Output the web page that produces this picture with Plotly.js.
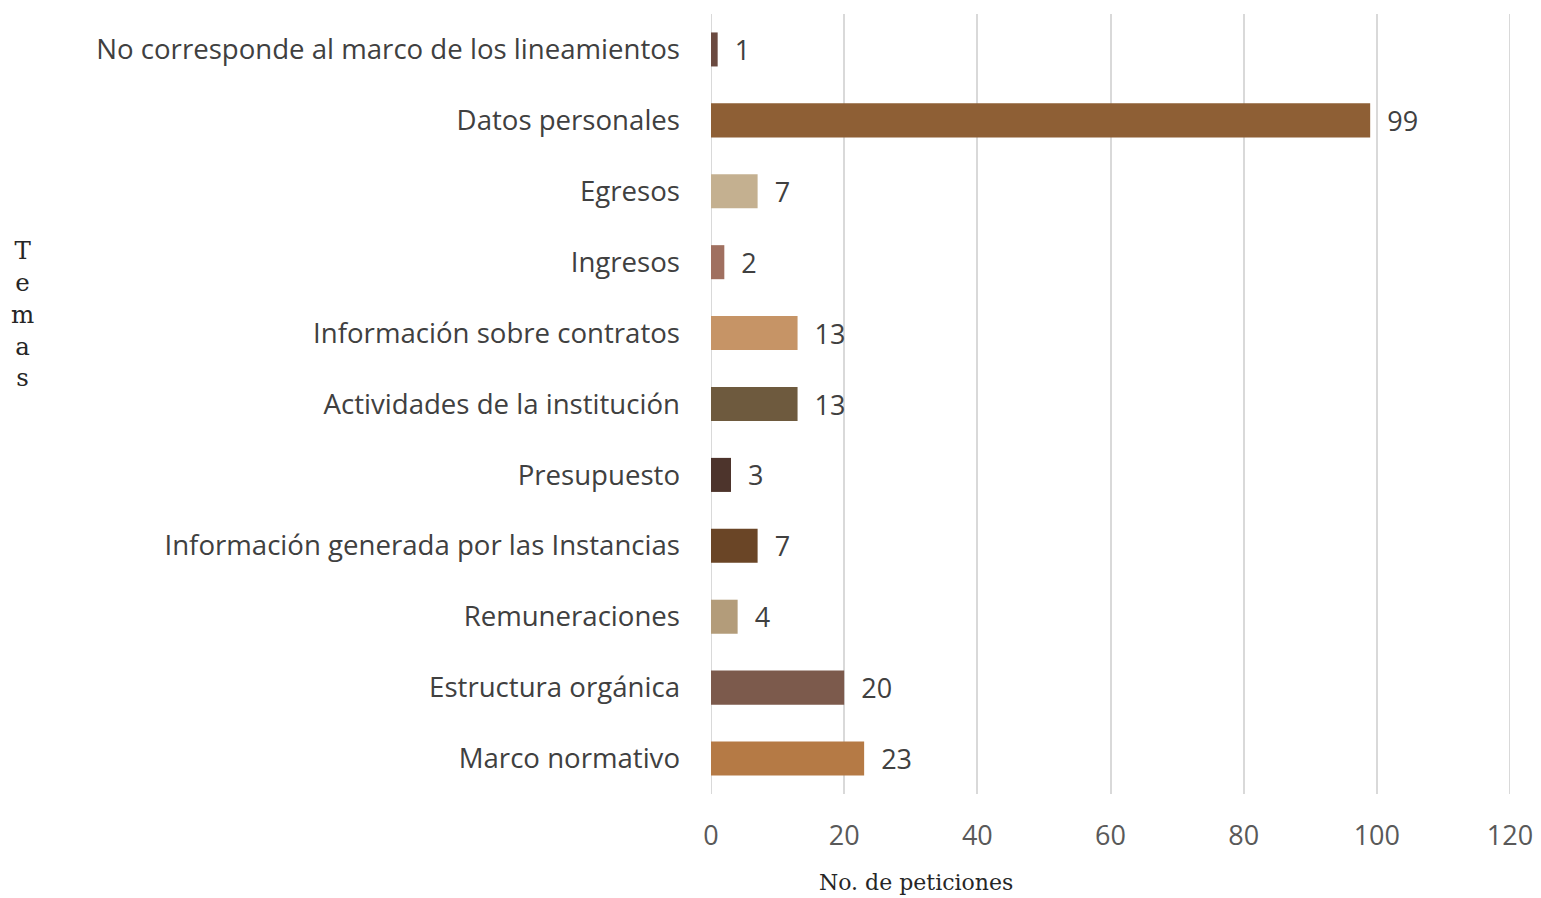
<!DOCTYPE html>
<html>
<head>
<meta charset="utf-8">
<script src="https://cdn.plot.ly/plotly-3.0.1.min.js"></script>
<style>html,body{margin:0;padding:0;background:#fff;}#chart{width:1541px;height:898px;}</style>
</head>
<body>
<div id="chart"></div>
<script>
const categories = [
  "No corresponde al marco de los lineamientos",
  "Datos personales",
  "Egresos",
  "Ingresos",
  "Información sobre contratos",
  "Actividades de la institución",
  "Presupuesto",
  "Información generada por las Instancias",
  "Remuneraciones",
  "Estructura orgánica",
  "Marco normativo"
];
const peticiones = [1, 99, 7, 2, 13, 13, 3, 7, 4, 20, 23];
const barColors = ["#6b4a40", "#8e5f35", "#c4b090", "#a07060", "#c69466", "#6e5a3e", "#4d342c", "#6a4526", "#b39c7a", "#7c5a4c", "#b57a45"];
const xTicks = [0, 20, 40, 60, 80, 100, 120];

const trace = {
  type: "bar",
  orientation: "h",
  y: categories,
  x: peticiones,
  width: 0.48,
  marker: {color: barColors, line: {width: 0}},
  texttemplate: "\u00a0\u00a0%{x}",
  textposition: "outside",
  constraintext: "none",
  cliponaxis: false,
  textfont: {family: "Open Sans, sans-serif", size: 27, color: "#404040"},
  hoverinfo: "x+y"
};

const layout = {
  width: 1541,
  height: 898,
  margin: {l: 711, r: 31, t: 14, b: 104, pad: 0},
  paper_bgcolor: "#ffffff",
  plot_bgcolor: "#ffffff",
  showlegend: false,
  font: {family: "Open Sans, sans-serif", color: "#404040"},
  xaxis: {
    range: [0, 120],
    tickvals: xTicks,
    ticktext: xTicks.map(String),
    showgrid: true,
    gridcolor: "#d9d9d9",
    gridwidth: 2,
    zeroline: false,
    showline: false,
    ticks: "",
    ticklen: 0,
    ticklabelstandoff: 23,
    tickfont: {family: "Open Sans, sans-serif", size: 27, color: "#595959"}
  },
  yaxis: {
    autorange: "reversed",
    showgrid: false,
    zeroline: false,
    showline: false,
    ticks: "",
    ticklen: 0,
    ticklabelstandoff: 30,
    tickfont: {family: "Open Sans, sans-serif", size: 27.6, color: "#404040"}
  },
  shapes: [
    {type: "line", xref: "x", yref: "paper", x0: 0, x1: 0, y0: 0, y1: 1,
     line: {color: "#d9d9d9", width: 2}, layer: "below"},
    {type: "line", xref: "x", yref: "paper", x0: 120, x1: 120, y0: 0, y1: 1,
     line: {color: "#d9d9d9", width: 2}, layer: "below"}
  ],
  annotations: [
    {xref: "paper", yref: "paper", x: -0.862, y: 0.615,
     xanchor: "center", yanchor: "middle",
     text: "T<br>e<br>m<br>a<br>s",
     showarrow: false,
     font: {family: "DejaVu Serif, serif", size: 24.5, color: "#262626"}},
    {xref: "paper", yref: "paper", x: 0.2566, y: -0.113,
     xanchor: "center", yanchor: "middle",
     text: "No. de peticiones",
     showarrow: false,
     font: {family: "DejaVu Serif, serif", size: 22, color: "#262626"}}
  ]
};

Plotly.newPlot("chart", [trace], layout, {displayModeBar: false, staticPlot: true});
</script>
</body>
</html>
